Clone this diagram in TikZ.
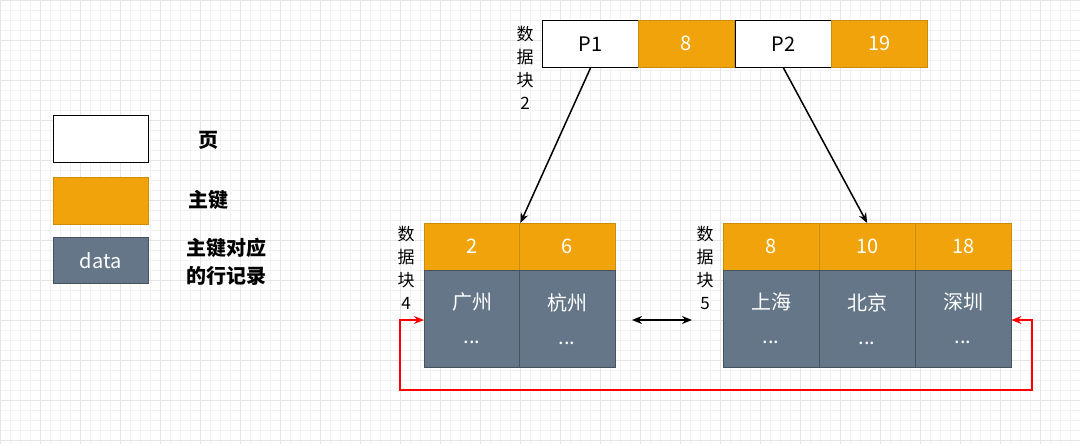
\documentclass[tikz,border=0pt]{standalone}
\usepackage{fontspec}
\setmainfont{Liberation Sans}
\newfontfamily\cjk{Noto Sans CJK SC}
\usetikzlibrary{arrows.meta}
\definecolor{org}{HTML}{F0A30A}
\definecolor{gry}{HTML}{647687}
\begin{document}
\begin{tikzpicture}[x=1pt,y=-1pt,font=\cjk\fontsize{20}{24}\selectfont,
  wcell/.style={draw=black,line width=1pt,fill=white,minimum width=96pt,minimum height=47pt,inner sep=0pt,anchor=north west},
  ocell/.style={draw=org!85!black,fill=org,text=white,minimum width=96pt,minimum height=47pt,inner sep=0pt,anchor=north west},
  gcell/.style={draw=gry!70!black,fill=gry,text=white,minimum width=96pt,minimum height=97pt,inner sep=0pt,anchor=north west,align=center},
  lbl/.style={align=center,font=\cjk\fontsize{17}{23}\selectfont},
  leg/.style={font=\cjk\bfseries\fontsize{20}{28}\selectfont,anchor=west,align=left},
  arr/.style={-{Stealth[length=10pt,width=8pt]},line width=1.5pt}]
\useasboundingbox (0,0) rectangle (1080,444);
\fill[white] (0,0) rectangle (1080,444);
\draw[black!5,line width=0.5pt] (0,0) grid[step=10pt] (1080,444);
\draw[black!10,line width=0.5pt] (0,0) grid[step=40pt] (1080,444);
% top
\node[wcell] (p1) at (542,20) {P1};
\node[ocell] (k8) at (638,20) {8};
\node[wcell] (p2) at (735,20) {P2};
\node[ocell] (k19) at (831,20) {19};
\node[lbl] (l2) at (525,68) {数\\据\\块\\2};
% legend
\node[wcell,minimum width=95pt] (lw) at (53,115) {};
\node[ocell,minimum width=95pt] (lo) at (53,177) {};
\node[gcell,minimum width=95pt,minimum height=46pt] (lg) at (53,237) {data};
\node[leg] (t1) at (195,140) {页};
\node[leg] (t2) at (185,200) {主键};
\node[leg] (t3) at (183,262) {主键对应\\的行记录};
% block 4
\node[ocell] (a2) at (424,223) {2};
\node[ocell] (a6) at (519,223) {6};
\node[gcell] (ag) at (424,270) {广州\\[10pt]...};
\node[gcell] (ah) at (519,270) {杭州\\[10pt]...};
\node[lbl] (l4) at (406,268) {数\\据\\块\\4};
% block 5
\node[ocell] (b8) at (723,223) {8};
\node[ocell] (b10) at (819,223) {10};
\node[ocell] (b18) at (915,223) {18};
\node[gcell] (bs) at (723,270) {上海\\[10pt]...};
\node[gcell] (bb) at (819,270) {北京\\[10pt]...};
\node[gcell] (bz) at (915,270) {深圳\\[10pt]...};
\node[lbl] (l5) at (705,268) {数\\据\\块\\5};
% arrows
\draw[arr] (p1.south) -- (a2.north east);
\draw[arr] (p2.south) -- (b10.north);
\draw[{Stealth[length=10pt,width=8pt]}-{Stealth[length=10pt,width=8pt]},line width=1.5pt] (632,320) coordinate (d1) -- (692,320) coordinate (d2);
\coordinate (ra) at (ag.west |- 0,320);
\coordinate (rb) at (bz.east |- 0,320);
\draw[red,line width=1.5pt,{Stealth[length=10pt,width=8pt]}-{Stealth[length=10pt,width=8pt]}] (ra) -- (400,320) -- (400,390) -- (1032,390) -- (1032,320) -- (rb);
\end{tikzpicture}
\end{document}
